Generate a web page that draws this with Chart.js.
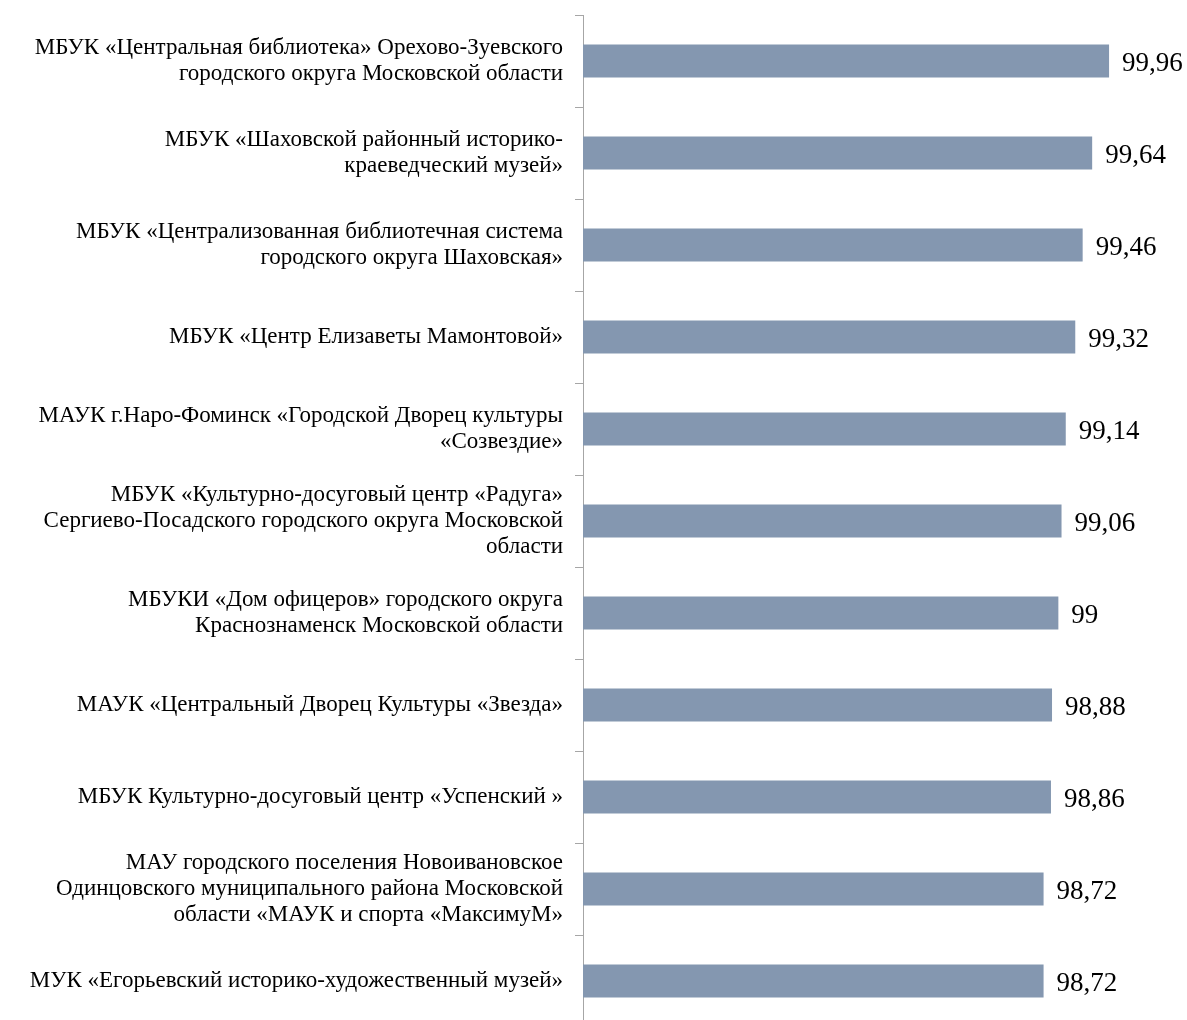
<!DOCTYPE html>
<html>
<head>
<meta charset="utf-8">
<script src="https://cdn.jsdelivr.net/npm/chart.js@4"></script>
<style>
  html, body { margin: 0; padding: 0; background: #fff; overflow: hidden; }
  #wrap { width: 1187px; height: 1030px; }
</style>
</head>
<body>
<div id="wrap"><canvas id="scoreChart"></canvas></div>
<script>
const orgNames = [
    ['МБУК «Центральная библиотека» Орехово-Зуевского', 'городского округа Московской области'],
    ['МБУК «Шаховской районный историко-', 'краеведческий музей»'],
    ['МБУК «Централизованная библиотечная система', 'городского округа Шаховская»'],
    'МБУК «Центр Елизаветы Мамонтовой»',
    ['МАУК г.Наро-Фоминск «Городской Дворец культуры', '«Созвездие»'],
    ['МБУК «Культурно-досуговый центр «Радуга»', 'Сергиево-Посадского городского округа Московской', 'области'],
    ['МБУКИ «Дом офицеров» городского округа', 'Краснознаменск Московской области'],
    'МАУК «Центральный Дворец Культуры «Звезда»',
    'МБУК Культурно-досуговый центр «Успенский »',
    ['МАУ городского поселения Новоивановское', 'Одинцовского муниципального района Московской', 'области «МАУК и спорта «МаксимуМ»'],
    'МУК «Егорьевский историко-художественный музей»'
];
const scores = [99.96, 99.64, 99.46, 99.32, 99.14, 99.06, 99, 98.88, 98.86, 98.72, 98.72];

// value labels at bar ends
const valueLabels = {
    id: 'valueLabels',
    afterDatasetsDraw(chart) {
        const ctx = chart.ctx;
        const meta = chart.getDatasetMeta(0);
        ctx.save();
        ctx.font = '27px "Liberation Serif", "Times New Roman", serif';
        ctx.fillStyle = '#000';
        ctx.textAlign = 'left';
        ctx.textBaseline = 'middle';
        meta.data.forEach((bar, i) => {
            const txt = String(scores[i]).replace('.', ',');
            ctx.fillText(txt, bar.x + 13, bar.y + 3);
        });
        ctx.restore();
    }
};

const ctxt = document.getElementById('scoreChart');
const scoreChart = new Chart(ctxt, {
    type: 'bar',
    data: {
        labels: orgNames,
        datasets: [{
            data: scores,
            backgroundColor: '#8497B0',
            borderWidth: 0,
            categoryPercentage: 1,
            barPercentage: 0.36
        }]
    },
    plugins: [valueLabels],
    options: {
        indexAxis: 'y',
        responsive: true,
        maintainAspectRatio: false,
        animation: false,
        layout: {
            padding: { top: 15, right: 23, bottom: 3, left: 0 }
        },
        plugins: {
            legend: { display: false },
            tooltip: { enabled: false }
        },
        scales: {
            x: {
                display: false,
                min: 90,
                max: 101
            },
            y: {
                afterFit(scale) {
                    scale.width = 583;
                    scale.paddingTop = 0;
                    scale.paddingBottom = 0;
                },
                border: { display: true, color: '#A6A6A6', width: 1 },
                grid: {
                    drawOnChartArea: false,
                    drawTicks: true,
                    tickLength: 8,
                    color: '#A6A6A6'
                },
                ticks: {
                    color: '#000',
                    padding: 12,
                    font: { family: '"Liberation Serif", "Times New Roman", serif', size: 23, lineHeight: '26px' }
                }
            }
        }
    }
});
</script>
</body>
</html>
